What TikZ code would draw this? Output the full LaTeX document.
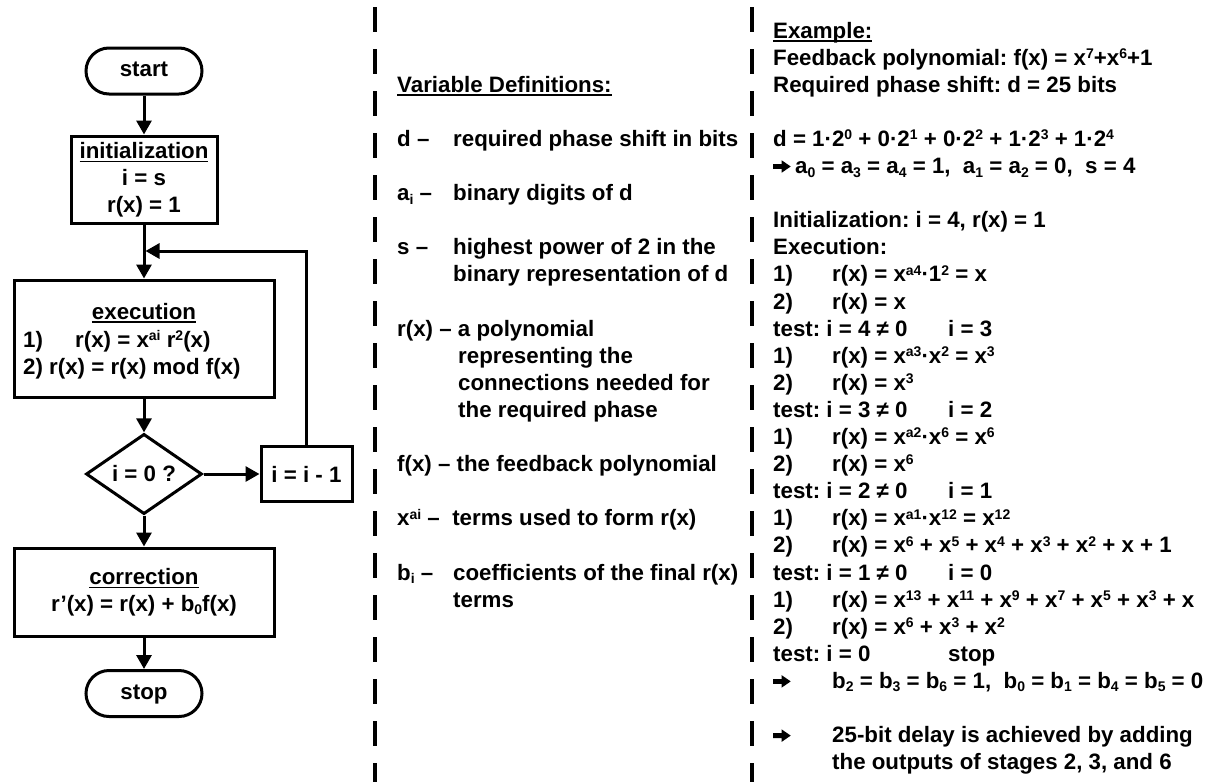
\documentclass[tikz,border=0pt]{standalone}
\usepackage{fontspec}
\setmainfont{Liberation Sans}
\usetikzlibrary{arrows.meta,shapes.geometric}

% underline close to the baseline
\newsavebox\ulbox
\newcommand\ulx[1]{\sbox\ulbox{#1}\rlap{\rule[-4pt]{\wd\ulbox}{1.8pt}}\usebox\ulbox}
% raised / lowered indices
\newcommand\supx[1]{\raisebox{6.7pt}{\fontsize{14}{14}\selectfont #1}}
\newcommand\subx[1]{\raisebox{-3.5pt}{\fontsize{14}{14}\selectfont #1}}
% heavy right arrow used as a bullet
\newcommand\arr{\tikz[baseline=0pt,x=1pt,y=1pt]\fill[black]
  (0,4.6) -- (8.5,4.6) -- (8.5,0.8) -- (17.5,7) -- (8.5,13.2) -- (8.5,9.4) -- (0,9.4) -- cycle;}
% tab stops of the worked example
\newcommand\tabx[1]{\makebox[59pt][l]{#1}}
\newcommand\tabt[1]{\makebox[175pt][l]{#1}}
% one text line of each column, placed on a common baseline grid
\newcommand\rline[3]{\node[txt] (#1) at (773,{38+27.1*#2}) {#3};}
\newcommand\mline[4]{\node[txt] (#1) at (#2,{38+27.1*(#3+2)}) {#4};}

\tikzset{
  box/.style={draw, line width=3pt, inner sep=0pt, align=center},
  term/.style={draw, line width=3pt, inner sep=0pt, rounded corners=23pt,
    minimum width=116pt, minimum height=46pt, text height=16pt, text depth=5pt},
  conn/.style={line width=3pt, -{Triangle[length=14pt,width=15pt]}},
  txt/.style={anchor=base west, inner sep=0pt},
  sepline/.style={line width=3.5pt, dash pattern=on 25pt off 17pt},
}

\begin{document}
\begin{tikzpicture}[x=1pt, y=-1pt,
  font=\fontsize{22.3}{26.8}\selectfont\bfseries\frenchspacing]
\useasboundingbox (0,0) rectangle (1212,782);
\fill[white] (0,0) rectangle (1212,782);

% ---------- flow chart ----------
\node[term] (start) at (144,71) {start};
\node[box, minimum width=146pt, minimum height=87pt] (init) at (144,179.5)
  {\ulx{initialization}\\i = s\\r(x) = 1};
\node[box, minimum width=260pt, minimum height=117pt] (exec) at (144,338.5) {};
\node[inner sep=0pt, anchor=base] (exech) at (144,319) {\ulx{execution}};
\node[txt] (exec1) at (23,347) {\makebox[52pt][l]{1)}r(x) = x\supx{ai} r\supx{2}(x)};
\node[txt] (exec2) at (23,374) {2) r(x) = r(x) mod f(x)};
\node[draw, diamond, line width=3pt, inner sep=0pt,
  minimum width=116pt, minimum height=68pt] (dec) at (144,474) {i = 0 ?};
\node[box, minimum width=91pt, minimum height=55pt] (dec1) at (306.5,474) {i = i - 1};
\node[box, minimum width=260pt, minimum height=88pt] (corr) at (144,592)
  {\ulx{correction}\\r’(x) = r(x) + b\subx{0}f(x)};
\node[term] (stop) at (144,693.5) {stop};

\draw[conn] (start) -- (init);
\draw[conn] (init) -- (exec);
\draw[conn] (exec) -- (dec);
\draw[conn] (dec) -- (dec1);
\draw[conn] (dec) -- (corr);
\draw[conn] (corr) -- (stop);
\coordinate (loopin) at (145.5,251);
\draw[conn] (dec1.north) |- (loopin);

% ---------- column separators ----------
\coordinate (s1t) at (375,7);  \coordinate (s1b) at (375,782);
\coordinate (s2t) at (752,7);  \coordinate (s2b) at (752,782);
\draw[sepline] (s1t) -- (s1b);
\draw[sepline] (s2t) -- (s2b);

% ---------- variable definitions ----------
\mline{vd}{397}{0}{\ulx{Variable Definitions:}}
\mline{dl}{397}{2}{d –}
\mline{dd}{453}{2}{required phase shift in bits}
\mline{al}{397}{4}{a\subx{i} –}
\mline{ad}{453}{4}{binary digits of d}
\mline{sl}{397}{6}{s –}
\mline{sd}{453}{6}{highest power of 2 in the}
\mline{sd2}{453}{7}{binary representation of d}
\mline{rl}{397}{9}{r(x) – a polynomial}
\mline{rd2}{458}{10}{representing the}
\mline{rd3}{458}{11}{connections needed for}
\mline{rd4}{458}{12}{the required phase}
\mline{fl}{397}{14}{f(x) – the feedback polynomial}
\mline{xl}{397}{16}{x\supx{ai} –\ \ terms used to form r(x)}
\mline{bl}{397}{18}{b\subx{i} –}
\mline{bd}{453}{18}{coefficients of the final r(x)}
\mline{bd2}{453}{19}{terms}

% ---------- worked example ----------
\rline{ex}{0}{\ulx{Example:}}
\rline{fb}{1}{Feedback polynomial: f(x) = x\supx{7}+x\supx{6}+1}
\rline{rq}{2}{Required phase shift: d = 25 bits}
\rline{db}{4}{d = 1·2\supx{0} + 0·2\supx{1} + 0·2\supx{2} + 1·2\supx{3} + 1·2\supx{4}}
\rline{ak}{5}{\makebox[22pt][l]{\arr}a\subx{0} = a\subx{3} = a\subx{4} = 1,\ \ a\subx{1} = a\subx{2} = 0,\ \ s = 4}
\rline{ini}{7}{Initialization: i = 4, r(x) = 1}
\rline{exh}{8}{Execution:}
\rline{a1}{9}{\tabx{1)}r(x) = x\supx{a4}·1\supx{2} = x}
\rline{a2}{10}{\tabx{2)}r(x) = x}
\rline{at}{11}{\tabt{test: i = 4 ≠ 0}i = 3}
\rline{b1}{12}{\tabx{1)}r(x) = x\supx{a3}·x\supx{2} = x\supx{3}}
\rline{b2}{13}{\tabx{2)}r(x) = x\supx{3}}
\rline{bt}{14}{\tabt{test: i = 3 ≠ 0}i = 2}
\rline{c1}{15}{\tabx{1)}r(x) = x\supx{a2}·x\supx{6} = x\supx{6}}
\rline{c2}{16}{\tabx{2)}r(x) = x\supx{6}}
\rline{ct}{17}{\tabt{test: i = 2 ≠ 0}i = 1}
\rline{d1}{18}{\tabx{1)}r(x) = x\supx{a1}·x\supx{12} = x\supx{12}}
\rline{d2}{19}{\tabx{2)}r(x) = x\supx{6} + x\supx{5} + x\supx{4} + x\supx{3} + x\supx{2} + x + 1}
\rline{dt}{20}{\tabt{test: i = 1 ≠ 0}i = 0}
\rline{e1}{21}{\tabx{1)}r(x) = x\supx{13} + x\supx{11} + x\supx{9} + x\supx{7} + x\supx{5} + x\supx{3} + x}
\rline{e2}{22}{\tabx{2)}r(x) = x\supx{6} + x\supx{3} + x\supx{2}}
\rline{et}{23}{\tabt{test: i = 0}stop}
\rline{bb}{24}{\tabx{\arr}b\subx{2} = b\subx{3} = b\subx{6} = 1,\ \ b\subx{0} = b\subx{1} = b\subx{4} = b\subx{5} = 0}
\rline{res1}{26}{\tabx{\arr}25-bit delay is achieved by adding}
\rline{res2}{27}{\tabx{}the outputs of stages 2, 3, and 6}
\end{tikzpicture}
\end{document}
